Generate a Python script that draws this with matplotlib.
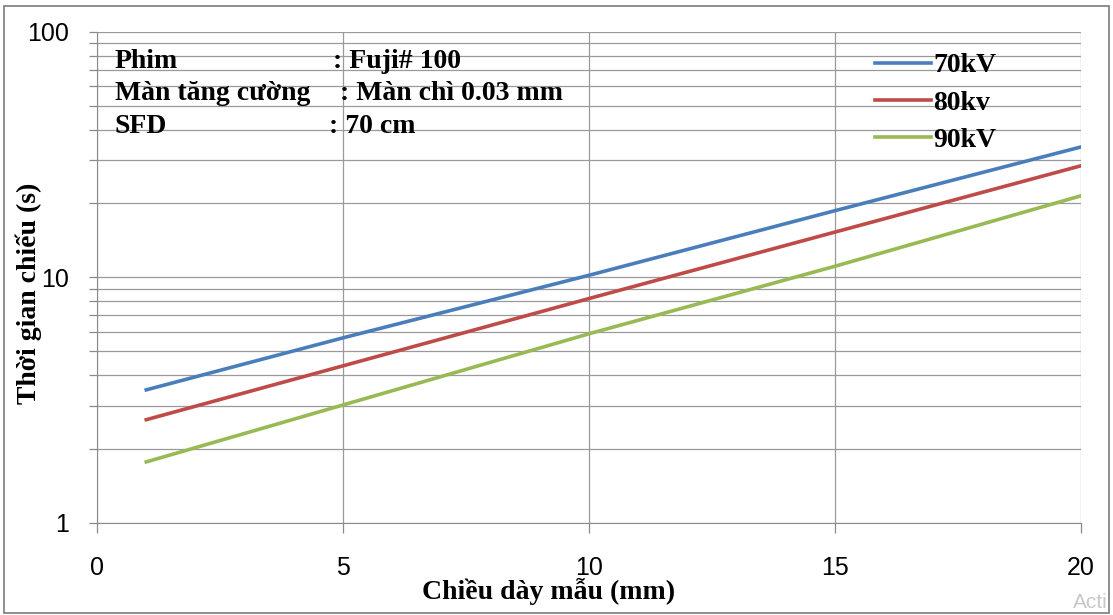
import numpy as np
import matplotlib.pyplot as plt
from matplotlib.patches import Rectangle

# --- Số liệu đọc từ đồ thị ---
chieu_day = [1, 5, 10, 15, 20]            # mm
t_70kv = [3.48, 5.67, 10.2, 18.7, 34.0]   # s
t_80kv = [2.63, 4.36, 8.2, 15.3, 28.5]
t_90kv = [1.77, 3.02, 5.89, 11.1, 21.5]

nhan = ['70kV', '80kv', '90kV']
mau = ['#4A7EBB', '#BE4B48', '#98B954']

serif = ['Liberation Serif', 'DejaVu Serif']
sans = ['Liberation Sans', 'DejaVu Sans']

fig = plt.figure(figsize=(11.13, 6.15), dpi=100)
ax = fig.add_axes([0.0872, 0.150, 0.8841, 0.798])

for y, lb, c in zip([t_70kv, t_80kv, t_90kv], nhan, mau):
    ax.plot(chieu_day, y, color=c, lw=2.6, label=lb)

ax.set_yscale('log')
ax.set_ylim(1, 100)
ax.set_xlim(0, 20)
ax.set_xticks([0, 5, 10, 15, 20])
ax.set_yticks([1, 10, 100])
ax.set_yticklabels(['1', '10', '100'])
ax.yaxis.set_minor_formatter(plt.NullFormatter())

ax.grid(True, which='both', axis='y', color='#9a9a9a', lw=0.9)
ax.grid(True, which='major', axis='x', color='#9a9a9a', lw=0.9)
ax.set_axisbelow(True)
for s in ['top', 'right']:
    ax.spines[s].set_visible(False)
for s in ['left', 'bottom']:
    ax.spines[s].set_color('#8a8a8a')
ax.tick_params(which='both', colors='#8a8a8a', width=0.9)
ax.tick_params(axis='y', which='both', length=6)
ax.tick_params(axis='y', which='major', labelcolor='black', labelsize=18, pad=14)
ax.tick_params(axis='x', length=7, labelcolor='black', labelsize=18, pad=17)
for t in ax.get_xticklabels() + ax.get_yticklabels():
    t.set_family(sans)

ax.set_xlabel('Chiều dày mẫu (mm)', family=serif, fontweight='bold', fontsize=20)
ax.set_ylabel('Thời gian chiếu (s)', family=serif, fontweight='bold', fontsize=20)
ax.xaxis.set_label_coords((548 - 97) / 983, -(592 - 523) / 491, transform=ax.transAxes)
ax.xaxis.label.set_va('center')
ax.yaxis.set_label_coords(-(97 - 29) / 983, (523 - 293) / 491, transform=ax.transAxes)
ax.yaxis.label.set_va('center')

# Ghi chú điều kiện chụp
dong = [('Phim', ': Fuji# 100', 333),
        ('Màn tăng cường', ': Màn chì 0.03 mm', 340),
        ('SFD', ': 70 cm', 329)]
for i, (a, b, xb) in enumerate(dong):
    yy = 1 - (68 + i * 32.5) / 615
    fig.text(115 / 1113, yy, a, family=serif, fontweight='bold', fontsize=20,
             va='baseline')
    fig.text(xb / 1113, yy, b, family=serif, fontweight='bold', fontsize=20,
             va='baseline')

leg = ax.legend(loc='upper left', bbox_to_anchor=(875 / 1113, 1 - 53 / 615),
                bbox_transform=fig.transFigure, frameon=False,
                borderpad=0, borderaxespad=0,
                prop={'family': serif, 'weight': 'bold', 'size': 20},
                handlelength=2.0, handletextpad=0.1, labelspacing=0.42)

fig.patches.append(Rectangle((0.004, 0.004), 0.992, 0.986, transform=fig.transFigure,
                             fill=False, edgecolor='#7a7a7a', lw=1.2))
fig.text(1073 / 1113, 0.012, 'Acti', family=sans, fontsize=15, color='#c8c8c8')

fig.savefig('out.png', dpi=100)
